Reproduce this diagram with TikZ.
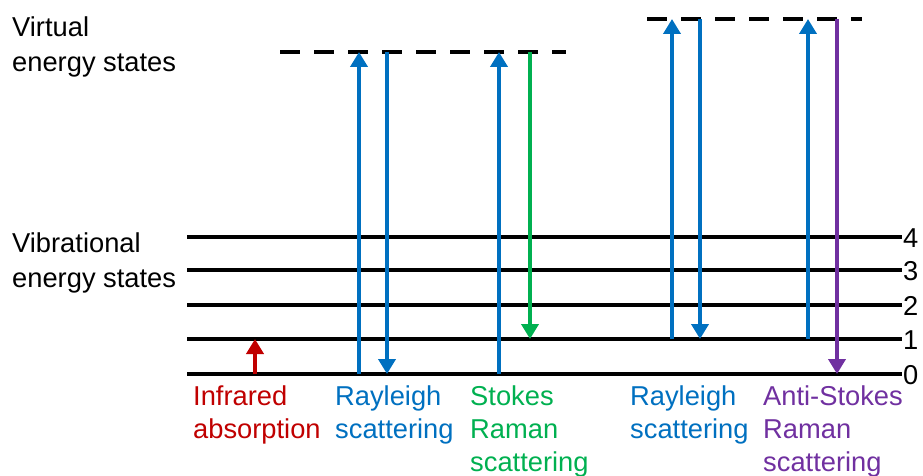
\documentclass[tikz,border=0pt]{standalone}
\usepackage{fontspec}
\setmainfont{Liberation Sans}
\usetikzlibrary{arrows.meta}
\definecolor{rblue}{HTML}{0070C0}
\definecolor{rgreen}{HTML}{00B050}
\definecolor{rred}{HTML}{C00000}
\definecolor{rpurple}{HTML}{7030A0}
\begin{document}
\begin{tikzpicture}[x=1pt,y=-1pt,
  lvl/.style={line width=4pt},
  virt/.style={line width=4pt,dash pattern=on 20pt off 14pt},
  trans/.style={line width=4pt,-{Triangle[width=17pt,length=15pt]}},
  lbl/.style={inner sep=0pt,anchor=base west,align=left,font=\fontsize{27.3}{33}\selectfont},
  side/.style={inner sep=0pt,anchor=base west,align=left,font=\fontsize{27.3}{35}\selectfont},
  num/.style={inner sep=0pt,anchor=base west,font=\fontsize{27.3}{33}\selectfont}]
\useasboundingbox (0,0) rectangle (923,476);
% vibrational levels
\foreach \n/\y in {0/374,1/339,2/305,3/270,4/237}{
  \coordinate (L\n a) at (187,\y);
  \coordinate (L\n b) at (902,\y);
  \draw[lvl] (L\n a) -- (L\n b);
  \node[num] (N\n) at (903,\y+10) {\n};
}
% virtual levels
\coordinate (VAa) at (280,52);
\coordinate (VAb) at (566,52);
\coordinate (VBa) at (647,19);
\coordinate (VBb) at (862,19);
\draw[virt] (VAa) -- (VAb);
\draw[virt] (VBa) -- (VBb);
% arrows
\draw[trans,rred] (255,374) -- (255,339);
\draw[trans,rblue] (359,374) -- (359,52);
\draw[trans,rblue] (387,52) -- (387,374);
\draw[trans,rblue] (499,374) -- (499,52);
\draw[trans,rgreen] (530,52) -- (530,339);
\draw[trans,rblue] (672,339) -- (672,19);
\draw[trans,rblue] (700,19) -- (700,339);
\draw[trans,rblue] (808,339) -- (808,19);
\draw[trans,rpurple] (837,19) -- (837,374);
% labels (base anchor = baseline of last line)
\node[side] (virtlbl) at (12,72) {Virtual\\energy states};
\node[side] (viblbl) at (12,287) {Vibrational\\energy states};
\node[lbl,rred] (ir) at (193,438) {Infrared\\absorption};
\node[lbl,rblue] (ray1) at (335,438) {Rayleigh\\scattering};
\node[lbl,rgreen] (stokes) at (470,471) {Stokes\\Raman\\scattering};
\node[lbl,rblue] (ray2) at (630,438) {Rayleigh\\scattering};
\node[lbl,rpurple] (anti) at (763,471) {Anti-Stokes\\Raman\\scattering};
\end{tikzpicture}
\end{document}
